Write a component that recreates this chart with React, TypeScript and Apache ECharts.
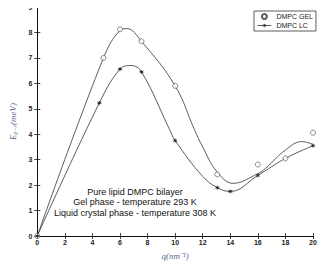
import React, { useEffect, useRef } from "react";
import * as echarts from "echarts";

const gelPoints: [number, number][] = [
  [0, 0], [4.8, 7.0], [6, 8.12], [7.56, 7.65], [10, 5.9], [13.06, 2.42], [16, 2.81], [18, 3.05], [20, 4.06],
];
const gelCurve: [number, number][] = [
  [0, 0], [4.8, 7.0], [6, 8.08], [6.5, 8.15], [7.56, 7.65], [10, 5.9], [11.4, 4.18], [12, 3.5], [13, 2.55],
  [14.2, 2.07], [16, 2.45], [16.56, 2.66], [18, 3.38], [19.2, 3.71], [20, 3.6],
];
const lcPoints: [number, number][] = [
  [0, 0], [4.5, 5.23], [6, 6.56], [7.56, 6.45], [10, 3.75], [13.06, 1.9], [14, 1.75], [16, 2.38], [20, 3.55],
];
const lcCurve: [number, number][] = [
  [0, 0], [4.5, 5.23], [6, 6.56], [6.8, 6.7], [7.56, 6.45], [9.6, 4.18], [10, 3.75], [12, 2.34], [13.06, 1.9],
  [14, 1.75], [16, 2.38], [18, 3.05], [20, 3.55],
];
const xTicks = { min: 0, max: 20, interval: 2 };
const yTicks = { min: 0, max: 9, interval: 1 };
const annotation = [
  "Pure lipid DMPC bilayer",
  "Gel phase - temperature 293 K",
  "Liquid crystal phase - temperature 308 K",
];

const starPath =
  "path://M5,0 L6,3.3 L9.8,2.5 L7,5 L9.8,7.5 L6,6.7 L5,10 L4,6.7 L0.2,7.5 L3,5 L0.2,2.5 L4,3.3 Z";

export default function App() {
  const ref = useRef<HTMLDivElement>(null);
  useEffect(() => {
    const chart = echarts.init(ref.current!, null, { renderer: "svg" });
    const tickLabel = { fontSize: 7, color: "#222", fontFamily: "Liberation Sans", fontWeight: "bold" as const };
    const axisLine = { show: true, lineStyle: { color: "#111", width: 1 } };
    const axisTick = { show: true, inside: true, length: 3, lineStyle: { color: "#111", width: 0.8 } };
    chart.setOption({
      animation: false,
      backgroundColor: "#fff",
      grid: { left: 22, right: 14, top: 7, bottom: 28 },
      legend: {
        left: 254,
        top: 11,
        orient: "vertical",
        itemWidth: 14,
        itemHeight: 5,
        itemGap: 2,
        padding: [2, 3, 2, 3],
        borderColor: "#333",
        borderWidth: 0.8,
        backgroundColor: "#fff",
        textStyle: { fontSize: 7, color: "#222", fontFamily: "Liberation Sans" },
        data: [
          { name: "DMPC GEL" },
          { name: "DMPC LC", lineStyle: { opacity: 1, color: "#333", width: 0.8 } },
        ],
      },
      xAxis: [
        {
          type: "value",
          ...xTicks,
          position: "bottom",
          axisLine,
          axisTick,
          splitLine: { show: false },
          axisLabel: { ...tickLabel, margin: 3 },
          name: "q(nm⁻¹)",
          nameLocation: "middle",
          nameGap: 15,
          nameTextStyle: { fontSize: 9, fontStyle: "italic", fontFamily: "Liberation Serif", color: "#5a6a8c" },
        },
        {
          type: "value",
          ...xTicks,
          position: "top",
          axisLine,
          axisTick,
          splitLine: { show: false },
          axisLabel: { show: false },
        },
      ],
      yAxis: [
        {
          type: "value",
          ...yTicks,
          position: "left",
          axisLine,
          axisTick,
          splitLine: { show: false },
          axisLabel: { ...tickLabel, margin: 5 },
          name: "{e|E}{s|p−r}{e|(meV)}",
          nameLocation: "middle",
          nameGap: 13,
          nameTextStyle: {
            rich: {
              e: { fontSize: 9, fontStyle: "italic", fontFamily: "Liberation Serif", color: "#5a6a8c" },
              s: { fontSize: 6, fontStyle: "italic", fontFamily: "Liberation Serif", color: "#5a6a8c", verticalAlign: "bottom", padding: [4, 0, 0, 0] },
            },
          },
        },
        {
          type: "value",
          ...yTicks,
          position: "right",
          axisLine,
          axisTick,
          splitLine: { show: false },
          axisLabel: { show: false },
        },
      ],
      series: [
        {
          name: "gel-curve",
          type: "line",
          data: gelCurve,
          smooth: 0.4,
          showSymbol: false,
          lineStyle: { color: "#333", width: 0.8 },
          silent: true,
        },
        {
          name: "DMPC GEL",
          type: "scatter",
          data: gelPoints,
          symbol: "circle",
          symbolSize: 5,
          itemStyle: { color: "#fff", borderColor: "#333", borderWidth: 0.7 },
          z: 5,
        },
        {
          name: "lc-curve",
          type: "line",
          data: lcCurve,
          smooth: 0.4,
          showSymbol: false,
          lineStyle: { color: "#333", width: 0.8 },
          silent: true,
        },
        {
          name: "DMPC LC",
          type: "line",
          data: lcPoints,
          symbol: starPath,
          symbolSize: 5,
          showAllSymbol: true,
          lineStyle: { color: "#333", width: 0.8, opacity: 0 },
          itemStyle: { color: "#222" },
          z: 5,
        },
      ],
      graphic: annotation.map((t, i) => ({
        type: "text",
        x: 135,
        y: 187 + i * 10.5,
        style: {
          text: t,
          fill: "#111",
          font: "9px 'Liberation Sans'",
          textAlign: "center",
        },
      })),
    });
    return () => chart.dispose();
  }, []);
  return <div ref={ref} style={{ width: 327, height: 265, marginLeft: -8, marginTop: -8 }} />;
}
